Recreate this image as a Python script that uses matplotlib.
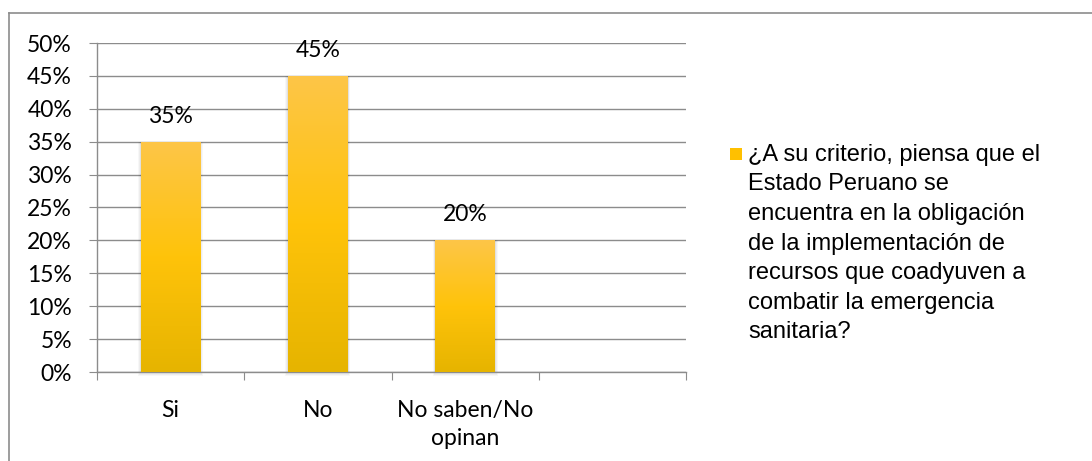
import numpy as np
import matplotlib
matplotlib.use("Agg")
import matplotlib.pyplot as plt
from matplotlib.colors import LinearSegmentedColormap
from matplotlib.lines import Line2D
from matplotlib.patches import Rectangle

categories = ["Si", "No", "No saben/No\nopinan", ""]
values = [35, 45, 20, None]
value_labels = ["35%", "45%", "20%"]
yticks = [0, 5, 10, 15, 20, 25, 30, 35, 40, 45, 50]
legend_lines = ["¿A su criterio, piensa que el", "Estado Peruano se",
                "encuentra en la obligación", "de la implementación de",
                "recursos que coadyuven a", "combatir la emergencia", "sanitaria?"]

W, H = 1092, 461
fig = plt.figure(figsize=(W/100, H/100), dpi=100)
ax = fig.add_axes([97/W, 1-372/H, (686-97)/W, (372-43)/H])

lab_font = ["Lato", "DejaVu Sans"]
cmap = LinearSegmentedColormap.from_list("gold", ["#E6B400", "#FFC30A", "#FDC648"])

n = len(categories)
ax.set_xlim(-0.5, n - 0.5)
ax.set_ylim(0, 50)
width = 0.405
for i, v in enumerate(values):
    if v is None:
        continue
    for k, a in enumerate([0.05, 0.04, 0.03]):
        sh = Rectangle((i - width/2 - 0.006*(k+1), -0.2*(k+1)), width + 0.012*(k+1), v + 0.2*(k+1),
                       facecolor="#000000", alpha=a, edgecolor="none", zorder=2, clip_on=False)
        ax.add_patch(sh)
    bar = ax.bar(i, v, width=width, color="#FFC000", zorder=3)[0]
    grad = np.linspace(0, 1, 256).reshape(-1, 1)
    im = ax.imshow(grad, cmap=cmap, origin="lower", aspect="auto",
                   extent=[i - width/2, i + width/2, 0, v], zorder=4)
    im.set_clip_path(bar)
    ax.text(i, v + 2.3, value_labels[i], ha="center", va="bottom", fontsize=16.5,
            family=lab_font, color="#000000", zorder=5)

ax.set_yticks(yticks)
ax.set_yticklabels([f"{t}%" for t in yticks], family=lab_font, fontsize=16.5)
ax.yaxis.grid(True, color="#8C8C8C", linewidth=1.0, zorder=0)
ax.set_axisbelow(True)

ax.set_xticks(np.arange(n + 1) - 0.5)
ax.set_xticklabels([])
ax.set_xticks(np.arange(n), minor=True)
ax.set_xticklabels(categories, minor=True, family=lab_font, fontsize=16.5)
ax.tick_params(axis="x", which="minor", length=0, pad=20)
ax.tick_params(axis="x", which="major", length=6, color="#8C8C8C", direction="out")
ax.tick_params(axis="y", length=6, color="#8C8C8C", direction="out", pad=12)
for lbl in ax.get_xticklabels(minor=True):
    lbl.set_linespacing(1.45)

for s in ["top", "right"]:
    ax.spines[s].set_visible(False)
for s in ["left", "bottom"]:
    ax.spines[s].set_color("#8C8C8C")
    ax.spines[s].set_linewidth(1.0)

# legend (drawn manually to control line spacing)
fig.add_artist(Rectangle((730/W, 1-160/H), 12/W, 12/H, transform=fig.transFigure,
                         facecolor="#FFC000", edgecolor="none"))
line_y = [155, 184.5, 214, 243.5, 273, 302.5, 332]
for txt, yy in zip(legend_lines, line_y):
    fig.text(748/W, 1-yy/H, txt, ha="left", va="center", fontsize=17,
             family=["Liberation Sans", "DejaVu Sans"], color="#000000")

# outer frame
fig.add_artist(Line2D([9/W, 1.0], [1-13/H, 1-13/H], transform=fig.transFigure,
                      color="#8C8C8C", linewidth=1.2))
fig.add_artist(Line2D([9/W, 9/W], [0, 1-13/H], transform=fig.transFigure,
                      color="#8C8C8C", linewidth=1.2))

fig.savefig("out.png", dpi=100)
